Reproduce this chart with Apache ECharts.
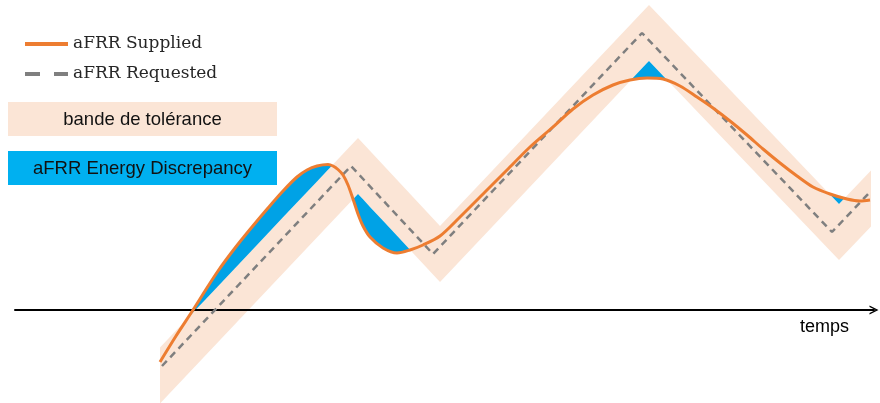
<!DOCTYPE html>
<html>
<head>
<meta charset="utf-8">
<script src="https://cdn.jsdelivr.net/npm/echarts/dist/echarts.min.js"></script>
<style>
html,body{margin:0;padding:0;background:#ffffff;}
#chart{width:880px;height:403px;}
</style>
</head>
<body>
<div id="chart"></div>
<script>
// ---- data (time units / power units, 0 = time axis) ----
const suppliedTime = [160,176,193,205,218,235,252,268,283,297,307,317,328,333,338,343,348,353,358,363,370,383,397,410,423,440,460,487,507,530,553,573,593,613,630,647,663,680,697,713,730,747,763,780,797,813,830,847,860,870];
const suppliedValue = [-52,-26,0,19,39,62,83,102,119,133,140,144,145.5,144,140.5,135,125,111,96,84,73,62,57,60,65,74,93,120,140,163,183,201,215,225,230,232,231,224,213,202,189,175,161,147,134,123,116,111,109,110];
const requestedTime = [162,351,433,642,832,871];
const requestedValue = [-56,144,56,277,78,119];
const bandTime = [160,358,440,649,839,871];
const bandUpper = [-37.5,172,84,305,106,139.6];
const bandLower = [-93.5,116,28,249,50,83.6];
const seriesNames = ['aFRR Supplied','aFRR Requested'];
const boxLabels = ['bande de tolérance','aFRR Energy Discrepancy'];
const timeLabel = 'temps';

// ---- helpers ----
function interp(xs, ys, x){
  if (x <= xs[0]) return ys[0];
  if (x >= xs[xs.length-1]) return ys[ys.length-1];
  for (let i=1;i<xs.length;i++){
    if (x <= xs[i]){
      const t=(x-xs[i-1])/(xs[i]-xs[i-1]);
      return ys[i-1]+t*(ys[i]-ys[i-1]);
    }
  }
}
// regions where the supplied curve leaves the band (sign +1: above upper edge, -1: below lower edge)
function outsideRegions(edgeY, sign){
  const x0=Math.max(suppliedTime[0],bandTime[0]);
  const x1=Math.min(suppliedTime[suppliedTime.length-1],bandTime[bandTime.length-1]);
  let xs=[...suppliedTime,...bandTime].filter(x=>x>=x0&&x<=x1);
  xs=[...new Set(xs)].sort((a,b)=>a-b);
  const s=x=>interp(suppliedTime,suppliedValue,x);
  const e=x=>interp(bandTime,edgeY,x);
  const d=x=>sign*(s(x)-e(x));
  const pts=[];
  for(let i=0;i<xs.length;i++){
    if(i>0){
      const da=d(xs[i-1]), db=d(xs[i]);
      if(da*db<0){ pts.push(xs[i-1]+(xs[i]-xs[i-1])*da/(da-db)); }
    }
    pts.push(xs[i]);
  }
  const runs=[]; let cur=null, px=null, pd=null;
  for(const x of pts){
    const dv=d(x);
    if(dv>1e-7){
      if(!cur){ cur=[]; if(px!==null && Math.abs(pd)<=1e-6) cur.push(px); }
      cur.push(x);
    } else {
      if(cur){ cur.push(x); runs.push(cur); cur=null; }
    }
    px=x; pd=dv;
  }
  if(cur) runs.push(cur);
  return runs.map(r=>r.map(x=>[x,s(x)]).concat(r.slice().reverse().map(x=>[x,e(x)])));
}
const discrepancy=[...outsideRegions(bandUpper,1),...outsideRegions(bandLower,-1)];

const chart=echarts.init(document.getElementById('chart'),null,{renderer:'canvas'});
chart.setOption({
  animation:false,
  backgroundColor:'#ffffff',
  grid:{left:15,right:6,top:0,bottom:0},
  xAxis:{
    type:'value',min:15,max:874,z:2,
    axisLine:{show:true,onZero:true,lineStyle:{color:'#000000',width:2},
      symbol:['none','path://M0,10 L5,0 L10,10 L8.4,10 L5,3.2 L1.6,10 Z'],symbolSize:[15,9]},
    axisTick:{show:false},axisLabel:{show:false},splitLine:{show:false}
  },
  yAxis:{type:'value',min:-93,max:310,show:false,splitLine:{show:false}},
  legend:{
    orient:'vertical',left:20,top:29,itemWidth:43,itemHeight:4,itemGap:10,selectedMode:false,
    textStyle:{fontFamily:'DejaVu Serif',fontSize:17,lineHeight:20,color:'#262626'},
    data:[
      {name:seriesNames[0],icon:'rect'},
      {name:seriesNames[1],icon:'path://M0,0 L15,0 L15,4 L0,4 Z M29,0 L43,0 L43,4 L29,4 Z'}
    ]
  },
  graphic:[
    {type:'rect',left:8,top:102,shape:{width:269,height:34},style:{fill:'#FBE5D6'},z:10},
    {type:'text',x:142.5,y:119.5,style:{text:boxLabels[0],font:'18.5px "Liberation Sans"',fill:'#111111',align:'center',verticalAlign:'middle'},z:11},
    {type:'rect',left:8,top:151,shape:{width:269,height:34},style:{fill:'#00B0F0'},z:10},
    {type:'text',x:142.5,y:168.5,style:{text:boxLabels[1],font:'18.5px "Liberation Sans"',fill:'#111111',align:'center',verticalAlign:'middle'},z:11},
    {type:'text',x:800,y:327,style:{text:timeLabel,font:'18px "Liberation Sans"',fill:'#000000',align:'left',verticalAlign:'middle'},z:11}
  ],
  series:[
    {
      name:'band',type:'custom',z:1,silent:true,
      data:[[bandTime[0],bandLower[0]]],
      encode:{x:0,y:1},
      renderItem:function(params,api){
        const pts=bandTime.map((t,i)=>api.coord([t,bandUpper[i]]))
          .concat(bandTime.map((t,i)=>api.coord([t,bandLower[i]])).reverse());
        return {type:'polygon',shape:{points:pts},style:{fill:'#FBE5D6'}};
      }
    },
    {
      name:'discrepancy',type:'custom',z:1,silent:true,
      data:discrepancy.map(p=>[p[0][0],p[0][1]]),
      encode:{x:0,y:1},
      renderItem:function(params,api){
        const pts=discrepancy[params.dataIndex].map(p=>api.coord(p));
        return {type:'polygon',shape:{points:pts},style:{fill:'#00A2E6'}};
      }
    },
    {
      name:seriesNames[1],type:'line',z:3,symbol:'none',silent:true,
      data:requestedTime.map((t,i)=>[t,requestedValue[i]]),
      lineStyle:{color:'#7F7F7F',width:2.5,type:[7,5]},
      itemStyle:{color:'#7F7F7F'}
    },
    {
      name:seriesNames[0],type:'line',z:4,symbol:'none',silent:true,smooth:0.3,
      data:suppliedTime.map((t,i)=>[t,suppliedValue[i]]),
      lineStyle:{color:'#ED7D31',width:3},
      itemStyle:{color:'#ED7D31'}
    }
  ]
});
</script>
</body>
</html>
